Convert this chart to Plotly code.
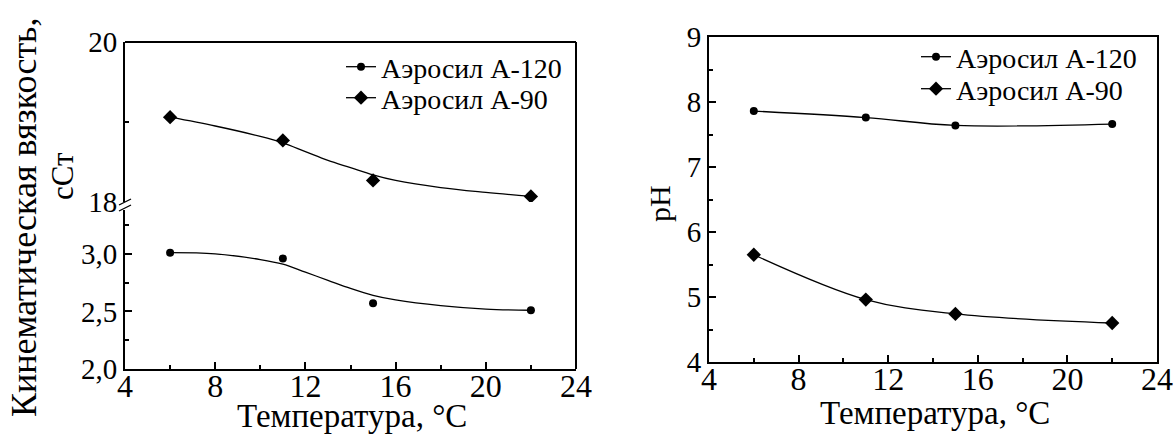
import plotly.graph_objects as go

W, H = 1174, 435
FONT = "Liberation Serif"

# ---------- data ----------
temps = [6, 11, 15, 22]

# left panel: kinematic viscosity, cSt
visc_a120 = [3.01, 2.96, 2.57, 2.51]
visc_a90 = [19.06, 18.77, 18.27, 18.07]
# smoothed fit curves
fit_x = [6, 8, 10, 11, 12, 13, 14, 15, 16, 18, 20, 22]
fit_a120 = [3.01, 3.00, 2.95, 2.91, 2.84, 2.77, 2.70, 2.64, 2.60, 2.55, 2.52, 2.51]
fit_a90 = [19.06, 18.95, 18.82, 18.74, 18.63, 18.52, 18.43, 18.34, 18.27, 18.18, 18.12, 18.07]

# right panel: pH
ph_a120 = [7.86, 7.76, 7.64, 7.66]
ph_a90 = [5.65, 4.96, 4.74, 4.60]

name_a120 = "Аэросил А-120"
name_a90 = "Аэросил А-90"

x_ticks = [4, 8, 12, 16, 20, 24]
x_minor = [6, 10, 14, 18, 22]
visc_low_ticks = [2.0, 2.5, 3.0]
visc_low_minor = [2.25, 2.75, 3.25]
visc_high_ticks = [18, 20]
visc_high_minor = [19]
ph_ticks = [4, 5, 6, 7, 8, 9]
ph_minor = [4.5, 5.5, 6.5, 7.5, 8.5]

x_title = "Температура, °С"
y_title_1 = "Кинематическая вязкость,"
y_title_2 = "сСт"
y_title_r = "pH"


def px(x):
    return x / W


def py(y):
    return 1 - y / H


# plot-area geometry (pixels)
L_left, L_right, L_top, L_bot = 125, 576, 42, 369
L_break_hi, L_break_lo = 202, 210
R_left, R_right, R_top, R_bot = 709, 1157, 37, 362

fig = go.Figure()

circ = dict(symbol="circle", size=8, color="black")
diam = dict(symbol="diamond", size=11, color="black")
line_style = dict(color="black", width=1.3)

# left panel - fits
fig.add_trace(go.Scatter(x=fit_x, y=fit_a120, mode="lines", line=dict(shape="spline", **line_style),
                         xaxis="x", yaxis="y", showlegend=False))
fig.add_trace(go.Scatter(x=fit_x, y=fit_a90, mode="lines", line=dict(shape="spline", **line_style),
                         xaxis="x", yaxis="y3", showlegend=False))
# left panel - points
fig.add_trace(go.Scatter(x=temps, y=visc_a120, mode="markers", marker=circ,
                         xaxis="x", yaxis="y", showlegend=False))
fig.add_trace(go.Scatter(x=temps, y=visc_a90, mode="markers", marker=diam,
                         xaxis="x", yaxis="y3", showlegend=False))
# left legend entries
fig.add_trace(go.Scatter(x=[None], y=[None], mode="lines+markers", marker=circ, line=line_style,
                         name=name_a120, xaxis="x", yaxis="y", legend="legend"))
fig.add_trace(go.Scatter(x=[None], y=[None], mode="lines+markers", marker=diam, line=line_style,
                         name=name_a90, xaxis="x", yaxis="y", legend="legend3"))

# right panel
fig.add_trace(go.Scatter(x=temps, y=ph_a120, mode="lines+markers", marker=circ,
                         line=dict(shape="spline", **line_style), name=name_a120,
                         xaxis="x2", yaxis="y2", legend="legend2"))
fig.add_trace(go.Scatter(x=temps, y=ph_a90, mode="lines+markers", marker=diam,
                         line=dict(shape="spline", **line_style), name=name_a90,
                         xaxis="x2", yaxis="y2", legend="legend4"))

xtickfont = dict(family=FONT, size=32, color="black")
ytickfont = dict(family=FONT, size=29, color="black")
common = dict(showgrid=False, zeroline=False, showline=True, linecolor="black", linewidth=2,
              ticks="inside", ticklen=7, tickwidth=1.5, tickcolor="black", tickmode="array")


def minor(vals):
    return dict(tickmode="array", tickvals=vals, ticks="inside", ticklen=4, tickwidth=1.5, tickcolor="black")


def legend_row(x, y):
    return dict(x=px(x), y=py(y), xanchor="left", yanchor="middle", bgcolor="rgba(0,0,0,0)",
                font=dict(family=FONT, size=28, color="black"), tracegroupgap=0)


fig.update_layout(
    width=W, height=H, template="none", separators=", ",
    margin=dict(l=0, r=0, t=0, b=0),
    paper_bgcolor="white", plot_bgcolor="rgba(0,0,0,0)",
    font=dict(family=FONT, color="black"),
    xaxis=dict(domain=[px(L_left), px(L_right)], anchor="y", range=[4, 24], tickfont=xtickfont,
               ticklabelstandoff=-12, tickvals=x_ticks, minor=minor(x_minor), **common),
    yaxis=dict(domain=[py(L_bot), py(L_break_lo)], anchor="x", range=[2.0, 3.38], tickfont=ytickfont,
               tickvals=visc_low_ticks, tickformat=".1f", minor=minor(visc_low_minor), **common),
    yaxis3=dict(domain=[py(L_break_hi), py(L_top)], anchor="x", range=[18, 20], tickfont=ytickfont,
                tickvals=visc_high_ticks, tickformat="d", minor=minor(visc_high_minor), **common),
    xaxis2=dict(domain=[px(R_left), px(R_right)], anchor="y2", range=[4, 24], mirror=True, tickfont=xtickfont,
                ticklabelstandoff=-12, tickvals=x_ticks, minor=minor(x_minor), **common),
    yaxis2=dict(domain=[py(R_bot), py(R_top)], anchor="x2", range=[4, 9], mirror=True, tickfont=ytickfont,
                tickvals=ph_ticks, tickformat="d", minor=minor(ph_minor), **common),
    legend=legend_row(341, 67),
    legend3=legend_row(341, 98),
    legend2=legend_row(916, 57),
    legend4=legend_row(916, 89),
)

shapes = [
    # left frame: top and right lines
    dict(type="line", xref="paper", yref="paper", x0=px(L_left), x1=px(L_right), y0=py(L_top), y1=py(L_top),
         line=dict(color="black", width=2)),
    dict(type="line", xref="paper", yref="paper", x0=px(L_right), x1=px(L_right), y0=py(L_bot), y1=py(L_top),
         line=dict(color="black", width=2)),
    # axis break marks
    dict(type="line", xref="paper", yref="paper", x0=px(119), x1=px(131), y0=py(205), y1=py(199),
         line=dict(color="black", width=1.3)),
    dict(type="line", xref="paper", yref="paper", x0=px(119), x1=px(131), y0=py(211), y1=py(205),
         line=dict(color="black", width=1.3)),
]
fig.update_layout(shapes=shapes)


def ann(text, x, y, size, angle=0):
    return dict(text=text, x=px(x), y=py(y), xref="paper", yref="paper", showarrow=False,
                xanchor="center", yanchor="middle", textangle=angle,
                font=dict(family=FONT, size=size, color="black"))


annotations = [
    ann(x_title, 352, 416, 33),
    ann(x_title, 935, 413, 33),
    ann(y_title_1, 24, 217, 36, -90),
    ann(y_title_2, 62, 176, 31, -90),
    ann(y_title_r, 659, 204, 30, -90),
]
fig.update_layout(annotations=annotations)

fig.write_html("out.html", config={"displayModeBar": False},
               post_script="document.body.style.margin='0px';")
